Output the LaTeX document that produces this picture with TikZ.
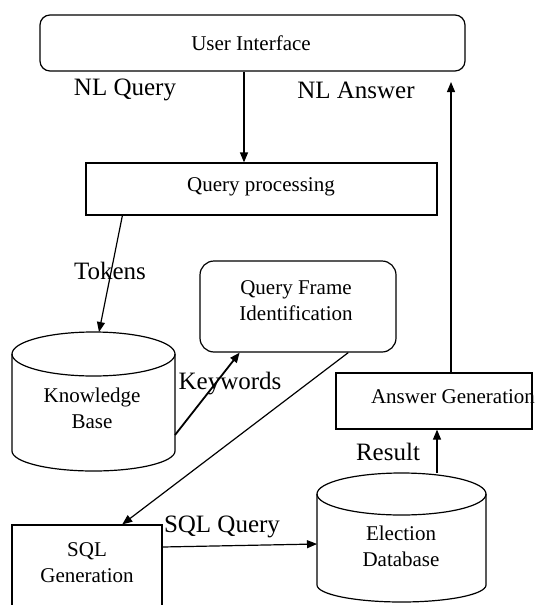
\documentclass[tikz,border=0pt]{standalone}
\usepackage{fontspec}
\setmainfont{Liberation Serif}
\usetikzlibrary{arrows.meta,calc}
\tikzset{
  boxtxt/.style={font=\fontsize{21}{26}\selectfont, align=center, inner sep=0pt},
  lbl/.style={font=\fontsize{25}{28}\selectfont, inner sep=0pt},
  blk/.style={draw, line width=1.2pt, inner sep=0pt},
  rblk/.style={blk, rounded corners=10pt},
  conn/.style={line width=1.2pt, -{Triangle[length=10pt,width=8pt]}},
  cyl/.style={line width=1.2pt},
}
\begin{document}
\begin{tikzpicture}[x=1pt,y=-1pt]
\useasboundingbox (0,0) rectangle (537,605);
\clip (0,0) rectangle (537,605);

% boxes
\node[rblk, minimum width=425pt, minimum height=56pt] (ui) at (252.5,43) {};
\node[boxtxt] (uit) at (251,43) {User Interface};
\node[blk, minimum width=351pt, minimum height=52pt] (qp) at (261.5,189) {};
\node[boxtxt] (qpt) at (261,187) {Query processing};
\node[rblk, rounded corners=14pt, minimum width=196pt, minimum height=91pt] (qfi) at (298,306.5) {};
\node[boxtxt] (qfit) at (296,301) {Query Frame\\Identification};
\node[blk, minimum width=196pt, minimum height=56pt] (ag) at (434,401) {};
\node[boxtxt] (agt) at (453,397) {Answer Generation};
\node[blk, minimum width=150pt, minimum height=110pt] (sqlg) at (87,580) {};
\node[boxtxt] (sqlgt) at (87,563) {SQL\\Generation};

% knowledge base cylinder
\draw[cyl] (93.5,354) ellipse [x radius=81.5, y radius=22];
\draw[cyl] (12,354) -- (12,451) arc [start angle=180, end angle=0, x radius=81.5, y radius=20] -- (175,354);
\coordinate (kbtop) at (99,332);
\coordinate (kbright) at (175,435);
\node[boxtxt] (kb) at (92,408) {Knowledge\\Base};

% election database cylinder
\draw[cyl] (401.5,494) ellipse [x radius=84.5, y radius=21];
\draw[cyl] (317,494) -- (317,585) arc [start angle=180, end angle=0, x radius=84.5, y radius=17] -- (486,494);
\coordinate (edbtop) at (437,473);
\coordinate (edbleft) at (317,544);
\node[boxtxt] (edb) at (401,546) {Election\\Database};

% connectors
\draw[conn] (ui.south -| 244,0) -- (qp.north -| 244,0);
\draw[conn] (ag.north -| 451,0) -- (451,82);
\draw[conn] ($(qp.south west)!0.105!(qp.south east)$) -- (kbtop);
\draw[conn, line width=1.8pt] (kbright) -- ($(qfi.south west)!0.204!(qfi.south east)$);
\draw[conn] ($(qfi.south west)!0.755!(qfi.south east)$) -- ($(sqlg.north west)!0.733!(sqlg.north east)$);
\draw[conn] (sqlg.east |- 0,547) -- (edbleft);
\draw[conn] (edbtop) -- (ag.south -| 437,0);

% labels
\node[lbl] (nlq) at (125,90) {NL Query};
\node[lbl] (nla) at (356,90) {NL Answer};
\node[lbl] (tok) at (110,271) {Tokens};
\node[lbl] (kw) at (230,384) {Keywords};
\node[lbl] (res) at (388,452) {Result};
\node[lbl] (sqlq) at (222,527) {SQL Query};
\end{tikzpicture}
\end{document}
